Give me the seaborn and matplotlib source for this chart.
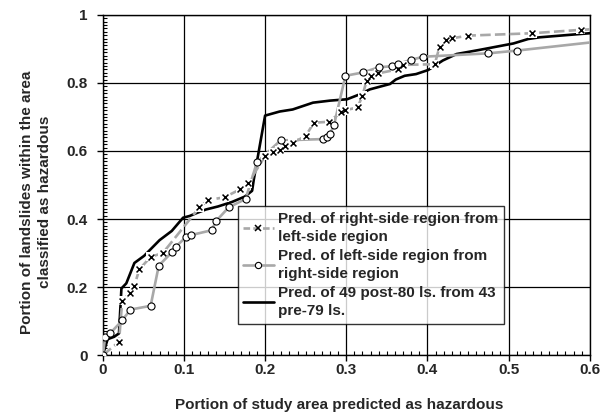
import numpy as np
import pandas as pd
import matplotlib
matplotlib.use("Agg")
import matplotlib.pyplot as plt
from matplotlib.lines import Line2D
from matplotlib.ticker import MultipleLocator
import seaborn as sns

# ---- data ----
right_x = [0, 0.020, 0.024, 0.034, 0.039, 0.045, 0.059, 0.074, 0.119, 0.130, 0.150, 0.169,
           0.179, 0.200, 0.210, 0.218, 0.225, 0.234, 0.250, 0.260, 0.279, 0.294, 0.299,
           0.314, 0.320, 0.325, 0.330, 0.339, 0.364, 0.370, 0.409, 0.415, 0.423, 0.430,
           0.450, 0.529, 0.589]
right_y = [0, 0.039, 0.160, 0.184, 0.204, 0.252, 0.289, 0.300, 0.434, 0.456, 0.464, 0.487,
           0.505, 0.585, 0.596, 0.603, 0.616, 0.624, 0.644, 0.683, 0.686, 0.715, 0.720,
           0.728, 0.763, 0.806, 0.821, 0.828, 0.840, 0.853, 0.855, 0.907, 0.925, 0.931,
           0.939, 0.946, 0.956]
right_tail_x = [0.589, 0.62]
right_tail_y = [0.956, 0.960]

left_x = [0, 0.003, 0.009, 0.024, 0.034, 0.059, 0.069, 0.085, 0.090, 0.103, 0.109, 0.134,
          0.140, 0.155, 0.176, 0.190, 0.219, 0.271, 0.276, 0.280, 0.285, 0.299, 0.321,
          0.340, 0.356, 0.364, 0.380, 0.395, 0.475, 0.510]
left_y = [0, 0.052, 0.064, 0.102, 0.134, 0.145, 0.263, 0.302, 0.319, 0.348, 0.353, 0.367,
          0.395, 0.434, 0.459, 0.567, 0.631, 0.635, 0.640, 0.650, 0.677, 0.821, 0.831,
          0.846, 0.849, 0.856, 0.868, 0.877, 0.887, 0.895]
left_tail_x = [0.510, 0.62]
left_tail_y = [0.895, 0.924]

post_x = [0, 0.006, 0.014, 0.020, 0.023, 0.029, 0.039, 0.051, 0.070, 0.085, 0.099, 0.107,
          0.115, 0.127, 0.142, 0.159, 0.166, 0.175, 0.184, 0.186, 0.190, 0.200, 0.218,
          0.234, 0.259, 0.280, 0.301, 0.315, 0.329, 0.354, 0.361, 0.372, 0.386, 0.401,
          0.419, 0.436, 0.464, 0.506, 0.524, 0.538, 0.584, 0.600]
post_y = [0, 0.047, 0.054, 0.064, 0.196, 0.211, 0.271, 0.292, 0.338, 0.365, 0.404, 0.409,
          0.417, 0.428, 0.437, 0.450, 0.457, 0.466, 0.483, 0.515, 0.569, 0.704, 0.716,
          0.722, 0.742, 0.748, 0.752, 0.765, 0.781, 0.797, 0.810, 0.821, 0.826, 0.838,
          0.866, 0.885, 0.897, 0.916, 0.929, 0.934, 0.943, 0.946]

labels = ["Pred. of right-side region from\nleft-side region",
          "Pred. of left-side region from\nright-side region",
          "Pred. of 49 post-80 ls. from 43\npre-79 ls."]
x_ticks = [0, 0.1, 0.2, 0.3, 0.4, 0.5, 0.6]
x_tick_labels = ["0", "0.1", "0.2", "0.3", "0.4", "0.5", "0.6"]
y_ticks = [0, 0.2, 0.4, 0.6, 0.8, 1.0]
y_tick_labels = ["0", "0.2", "0.4", "0.6", "0.8", "1"]

# ---- style ----
sns.set_theme(style="white")
plt.rcParams['font.family'] = ['Liberation Sans', 'DejaVu Sans']
plt.rcParams['font.weight'] = 'bold'
FS = 11

GREY = "#a8a8a8"
fig = plt.figure(figsize=(6.08, 4.13), dpi=100)
ax = fig.add_axes([0.169, 0.140, 0.801, 0.824])

# black line
sns.lineplot(x=post_x, y=post_y, ax=ax, color="black", lw=1.9, sort=False,
             estimator=None, zorder=2, legend=False)
# grey lines
sns.lineplot(x=left_x + left_tail_x[1:], y=left_y + left_tail_y[1:], ax=ax, color=GREY,
             lw=1.9, sort=False, estimator=None, zorder=3, legend=False)
sns.lineplot(x=right_x + right_tail_x[1:], y=right_y + right_tail_y[1:], ax=ax, color=GREY,
             lw=1.9, sort=False, estimator=None, zorder=3, legend=False,
             linestyle=(0, (4, 1.6)))
# white halos behind x markers
sns.scatterplot(x=right_x[1:], y=right_y[1:], ax=ax, marker="s", s=40, color="white",
                edgecolor="none", zorder=4, legend=False)
# markers
sns.scatterplot(x=right_x[1:], y=right_y[1:], ax=ax, marker="x", s=18, color="black",
                linewidth=1.1, zorder=5, legend=False)
sns.scatterplot(x=left_x, y=left_y, ax=ax, marker="o", s=26, facecolor="white",
                edgecolor="black", linewidth=0.8, zorder=6, legend=False)

ax.set_xlim(0, 0.6)
ax.set_ylim(0, 1)
ax.set_xticks(x_ticks)
ax.set_xticklabels(x_tick_labels)
ax.set_yticks(y_ticks)
ax.set_yticklabels(y_tick_labels)
ax.xaxis.set_minor_locator(MultipleLocator(0.01))
ax.yaxis.set_minor_locator(MultipleLocator(0.01))
ax.tick_params(which="major", direction="out", length=4, width=1, color="black",
               labelsize=FS, bottom=True, left=True)
ax.tick_params(axis="x", which="major", pad=1.5)
ax.tick_params(axis="y", which="major", pad=7)
ax.tick_params(which="minor", direction="in", length=3, width=0.8, color="black",
               bottom=True, left=True)
for lab in ax.get_xticklabels() + ax.get_yticklabels():
    lab.set_fontweight("bold")
ax.grid(True, which="major", color="black", lw=0.9)
ax.set_axisbelow(True)
for sp in ax.spines.values():
    sp.set_color("black")
    sp.set_linewidth(1)

ax.set_xlabel("Portion of study area predicted as hazardous", fontsize=FS,
              fontweight="bold")
ax.xaxis.set_label_coords(0.485, -0.125)
ax.set_ylabel("Portion of landslides within the area\nclassified as hazardous",
              fontsize=FS, fontweight="bold", linespacing=1.3)
ax.yaxis.set_label_coords(-0.105, 0.45)

handles = [
    Line2D([], [], color=GREY, lw=1.9, linestyle=(0, (2.5, 1.2)), marker="x", ms=4,
           mec="black", mew=1.1),
    Line2D([], [], color=GREY, lw=1.9, marker="o", ms=4.5, mfc="white", mec="black",
           mew=0.8),
    Line2D([], [], color="black", lw=1.9),
]
leg = ax.legend(handles, labels, loc="upper left", bbox_to_anchor=(0.277, 0.437),
                borderaxespad=0, frameon=True, fancybox=False,
                handlelength=2.0, handletextpad=0.3, borderpad=0.35, labelspacing=0.3,
                prop={"weight": "bold", "size": FS})
for t in leg.get_texts():
    t.set_linespacing(1.4)
leg.get_frame().set_edgecolor("black")
leg.get_frame().set_linewidth(1)
leg.set_zorder(10)

fig.savefig("out.png", dpi=100)
